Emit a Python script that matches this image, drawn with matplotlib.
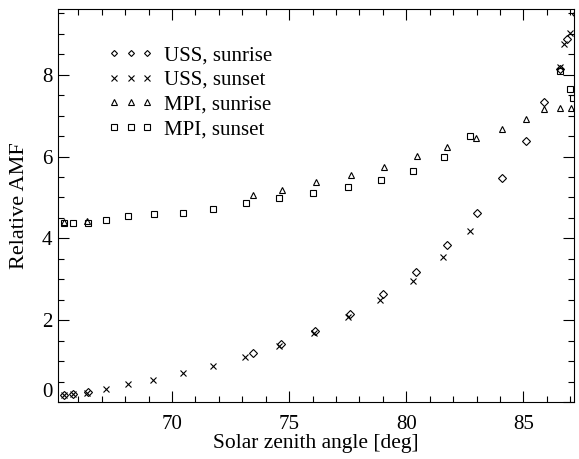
import numpy as np
import matplotlib
matplotlib.use("Agg")
import matplotlib.pyplot as plt
from matplotlib.ticker import MultipleLocator

plt.rcParams['font.family'] = ['Liberation Serif', 'DejaVu Serif']

# USS, sunrise (diamonds)
uss_rise_sza = [65.37, 65.78, 66.41, 73.44, 74.67, 76.10, 77.59, 79.01, 80.42,
                81.75, 83.00, 84.09, 85.10, 85.87, 86.58, 86.86, 87.26]
uss_rise_amf = [0.17, 0.20, 0.24, 1.20, 1.43, 1.73, 2.15, 2.63, 3.18,
                3.85, 4.63, 5.48, 6.39, 7.34, 8.14, 8.87, 9.48]

# USS, sunset (crosses)
uss_set_sza = [65.37, 65.78, 66.39, 67.19, 68.13, 69.21, 70.46, 71.75, 73.13,
               74.56, 76.05, 77.51, 78.87, 80.30, 81.58, 82.71, 86.58, 86.72, 86.97]
uss_set_amf = [0.17, 0.20, 0.23, 0.32, 0.44, 0.55, 0.71, 0.88, 1.11,
               1.37, 1.70, 2.07, 2.49, 2.97, 3.55, 4.17, 8.18, 8.75, 9.02]

# MPI, sunrise (triangles)
mpi_rise_sza = [65.37, 66.37, 73.47, 74.68, 76.15, 77.62, 79.04, 80.44, 81.74,
                82.98, 84.10, 85.09, 85.87, 86.58, 87.03, 87.25]
mpi_rise_amf = [4.40, 4.42, 5.07, 5.19, 5.37, 5.55, 5.75, 6.01, 6.24,
                6.45, 6.67, 6.92, 7.15, 7.19, 7.19, 7.21]

# MPI, sunset (squares)
mpi_set_sza = [65.37, 65.78, 66.41, 67.20, 68.13, 69.22, 70.46, 71.77, 73.14,
               74.58, 76.03, 77.51, 78.90, 80.30, 81.60, 82.71, 86.55, 86.97, 87.12]
mpi_set_amf = [4.37, 4.38, 4.38, 4.46, 4.55, 4.59, 4.63, 4.71, 4.86,
               4.99, 5.11, 5.26, 5.43, 5.65, 5.99, 6.49, 8.08, 7.65, 7.42]

fig = plt.figure(figsize=(5.79, 4.59), dpi=100)
ax = fig.add_axes([0.100, 0.124, 0.891, 0.856])

style = dict(linestyle='none', color='black', markerfacecolor='none',
             markeredgecolor='black', markeredgewidth=0.8)
ax.plot(uss_rise_sza, uss_rise_amf, marker='D', markersize=3.8, label='USS, sunrise', **style)
ax.plot(uss_set_sza, uss_set_amf, marker='x', markersize=5, label='USS, sunset', **style)
ax.plot(mpi_rise_sza, mpi_rise_amf, marker='^', markersize=5, label='MPI, sunrise', **style)
ax.plot(mpi_set_sza, mpi_set_amf, marker='s', markersize=4.8, label='MPI, sunset', **style)

ax.set_xlim(65.13, 87.15)
ax.set_ylim(0, 9.6)
ax.xaxis.set_major_locator(MultipleLocator(5))
ax.xaxis.set_minor_locator(MultipleLocator(1))
ax.yaxis.set_major_locator(MultipleLocator(2))
ax.yaxis.set_minor_locator(MultipleLocator(0.5))
ax.tick_params(which='both', direction='in', top=True, right=True,
               labelsize=15, width=0.8)
ax.tick_params(which='major', length=8)
ax.tick_params(which='minor', length=4)
ax.tick_params(axis='x', which='major', pad=9)
ax.tick_params(axis='y', which='major', pad=4)
for s in ax.spines.values():
    s.set_linewidth(0.8)

ax.set_xlabel('Solar zenith angle [deg]', fontsize=15.5, labelpad=0)
ax.set_ylabel('Relative AMF', fontsize=16, labelpad=9)

ax.legend(loc='upper left', bbox_to_anchor=(0.06, 0.955), frameon=False,
          numpoints=3, handlelength=2.2, handletextpad=0.5,
          labelspacing=0.25, fontsize=15, markerscale=0.8)

# lift the "0" label off the bottom spine like the original
fig.canvas.draw()
for tick in ax.yaxis.get_major_ticks():
    if abs(tick.get_loc()) < 1e-9:
        tick.label1.set_va('bottom')

fig.savefig('out.png', dpi=100)
